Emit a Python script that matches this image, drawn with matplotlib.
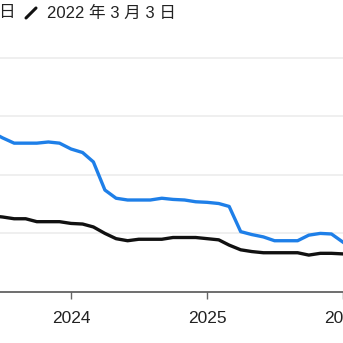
import datetime as dt
import matplotlib.pyplot as plt
import matplotlib.dates as mdates
from matplotlib.lines import Line2D

# monthly points, Jun 2023 .. Jan 2026
months = [dt.date(2023, 6, 1)]
while months[-1] < dt.date(2026, 1, 1):
    d = months[-1]
    months.append(dt.date(d.year + d.month // 12, d.month % 12 + 1, 1))

blue_vals = [2.73, 2.63, 2.54, 2.54, 2.54, 2.56, 2.54, 2.44, 2.38, 2.22,
             1.74, 1.60, 1.57, 1.57, 1.57, 1.60, 1.58, 1.57, 1.54, 1.53,
             1.51, 1.46, 1.03, 0.98, 0.94, 0.875, 0.875, 0.875, 0.97, 1.00,
             0.99, 0.85]
black_vals = [1.30, 1.28, 1.25, 1.25, 1.20, 1.20, 1.20, 1.17, 1.16, 1.11,
              1.00, 0.91, 0.875, 0.90, 0.90, 0.90, 0.93, 0.93, 0.93, 0.91,
              0.89, 0.80, 0.72, 0.69, 0.67, 0.67, 0.67, 0.67, 0.63, 0.66,
              0.66, 0.65]
year_ticks = [dt.date(2024, 1, 1), dt.date(2025, 1, 1), dt.date(2026, 1, 1)]
year_labels = ['2024', '2025', '2026']
legend_tail = '日'
legend_label = '2022 年 3 月 3 日'

FONT = ['Liberation Sans', 'Noto Sans CJK JP', 'DejaVu Sans']
plt.rcParams['font.family'] = FONT

fig = plt.figure(figsize=(3.43, 3.43), dpi=100)
ax = fig.add_axes([0, 51 / 343, 1, 292 / 343])

ax.plot(months, black_vals, color='#111111', lw=2.4, solid_joinstyle='round', zorder=3)
ax.plot(months, blue_vals, color='#1E7FE8', lw=2.4, solid_joinstyle='round', zorder=4)

ax.set_xlim(dt.date(2023, 6, 24), dt.date(2025, 12, 18))
ax.set_ylim(0, 292 / 58.6)
ax.set_yticks([1, 2, 3, 4])
ax.yaxis.grid(True, color='#ececec', lw=1.2)
ax.tick_params(axis='y', length=0, labelleft=False)
ax.set_axisbelow(True)

ax.set_xticks(year_ticks)
ax.set_xticklabels(year_labels)
ax.tick_params(axis='x', length=5, width=1, color='#666666', labelsize=12.5,
               labelcolor='#222222', pad=9)

for s in ['top', 'left', 'right']:
    ax.spines[s].set_visible(False)
ax.spines['bottom'].set_color('#555555')
ax.spines['bottom'].set_linewidth(1.2)

# legend strip at top (cropped)
fig.text(-2 / 343, 1 - 13 / 343, legend_tail, fontsize=12, color='#222222',
         ha='left', va='center')
fig.add_artist(Line2D([26 / 343, 36 / 343], [1 - 18 / 343, 1 - 8 / 343],
                      transform=fig.transFigure, color='#111111', lw=2.2,
                      solid_capstyle='round'))
fig.text(47 / 343, 1 - 13 / 343, legend_label, fontsize=12, color='#222222',
         ha='left', va='center')

fig.savefig('out.png', dpi=100)
